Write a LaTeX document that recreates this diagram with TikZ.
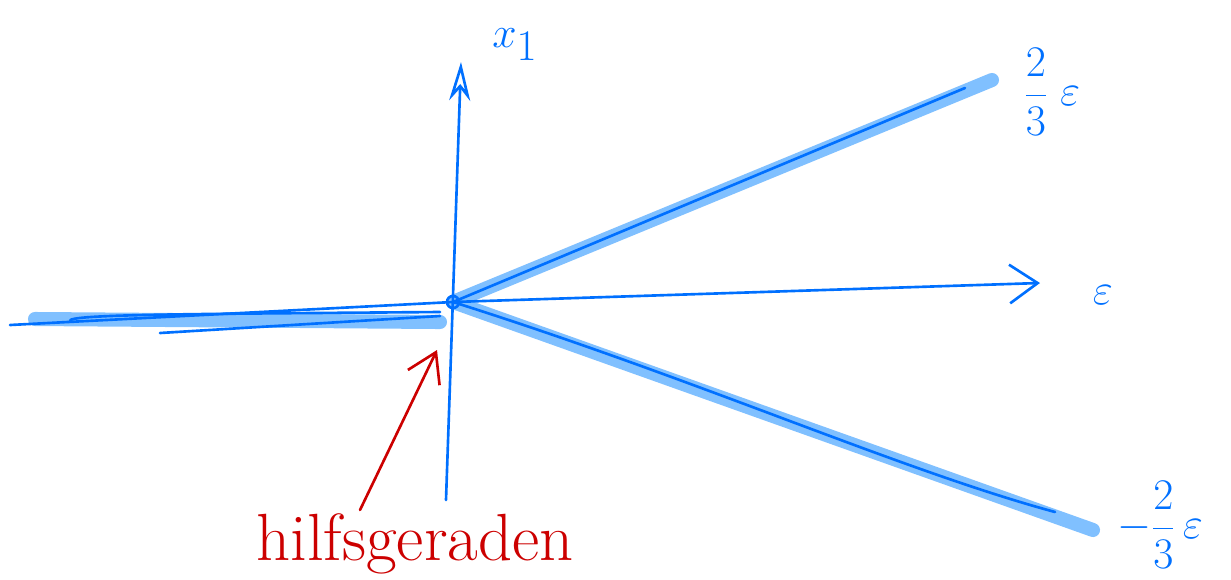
\documentclass[tikz,border=0pt]{standalone}
\usetikzlibrary{arrows.meta}
\definecolor{penblue}{RGB}{0,112,255}
\definecolor{markblue}{RGB}{128,192,255}
\definecolor{penred}{RGB}{204,0,0}
\tikzset{
  marker/.style={markblue,line width=8pt,line cap=round},
  pen/.style={penblue,line width=1.5pt,line cap=round},
  redpen/.style={penred,line width=1.5pt,line cap=round},
  lbl/.style={penblue,font=\fontsize{36}{42}\selectfont},
}
\begin{document}
\begin{tikzpicture}[x=0.02cm,y=-0.02cm]
  \useasboundingbox (0,0) rectangle (1231,579);
  \clip (0,0) rectangle (1231,579);
  % points of the sketch
  \coordinate (O) at (453,302);
  \coordinate (leftend) at (35,319);
  \coordinate (leftstop) at (440,322);
  \coordinate (upend) at (992,80);
  \coordinate (downend) at (1093,530);
  \coordinate (upthin) at (965,88);
  \coordinate (downthin) at (1055,512);
  \coordinate (epstip) at (1040,283);
  \coordinate (xbot) at (446,500);
  \coordinate (xtip) at (461,62);
  \coordinate (redfoot) at (360,510);
  \coordinate (redtip) at (437,350);
  % marker strokes
  \draw[marker] (leftend)--(leftstop);
  \draw[marker] (O)--(upend);
  \draw[marker] (O)--(downend);
  % pen strokes
  \draw[pen] (10,325)--(O);
  \draw[pen] (70,321) .. controls (66,314) and (200,314) .. (440,312);
  \draw[pen] (160,333)--(440,316);
  \draw[pen] (O)--(upthin);
  \draw[pen] (O) .. controls (700,380) and (900,470) .. (downthin);
  \draw[pen,-{Straight Barb[length=16pt,width=22pt]}] (O)--(epstip);
  \draw[pen,-{Stealth[open,length=22pt,width=12pt]}] (xbot)--(xtip);
  \draw[pen] (O) circle (6);
  \draw[redpen,-{Straight Barb[length=16pt,width=20pt]}] (redfoot)--(redtip);
  % labels
  \node[lbl] (xlab) at (515,45) {$x_1$};
  \node[lbl] (uplab) at (1052,92) {$\displaystyle\frac{2}{3}\;\varepsilon$};
  \node[lbl] (epslab) at (1103,295) {$\varepsilon$};
  \node[lbl] (downlab) at (1160,525) {$\displaystyle-\frac{2}{3}\,\varepsilon$};
  \node[penred,font=\fontsize{38}{44}\selectfont,anchor=base] (redlab) at (415,560) {hilfsgeraden};
\end{tikzpicture}
\end{document}
